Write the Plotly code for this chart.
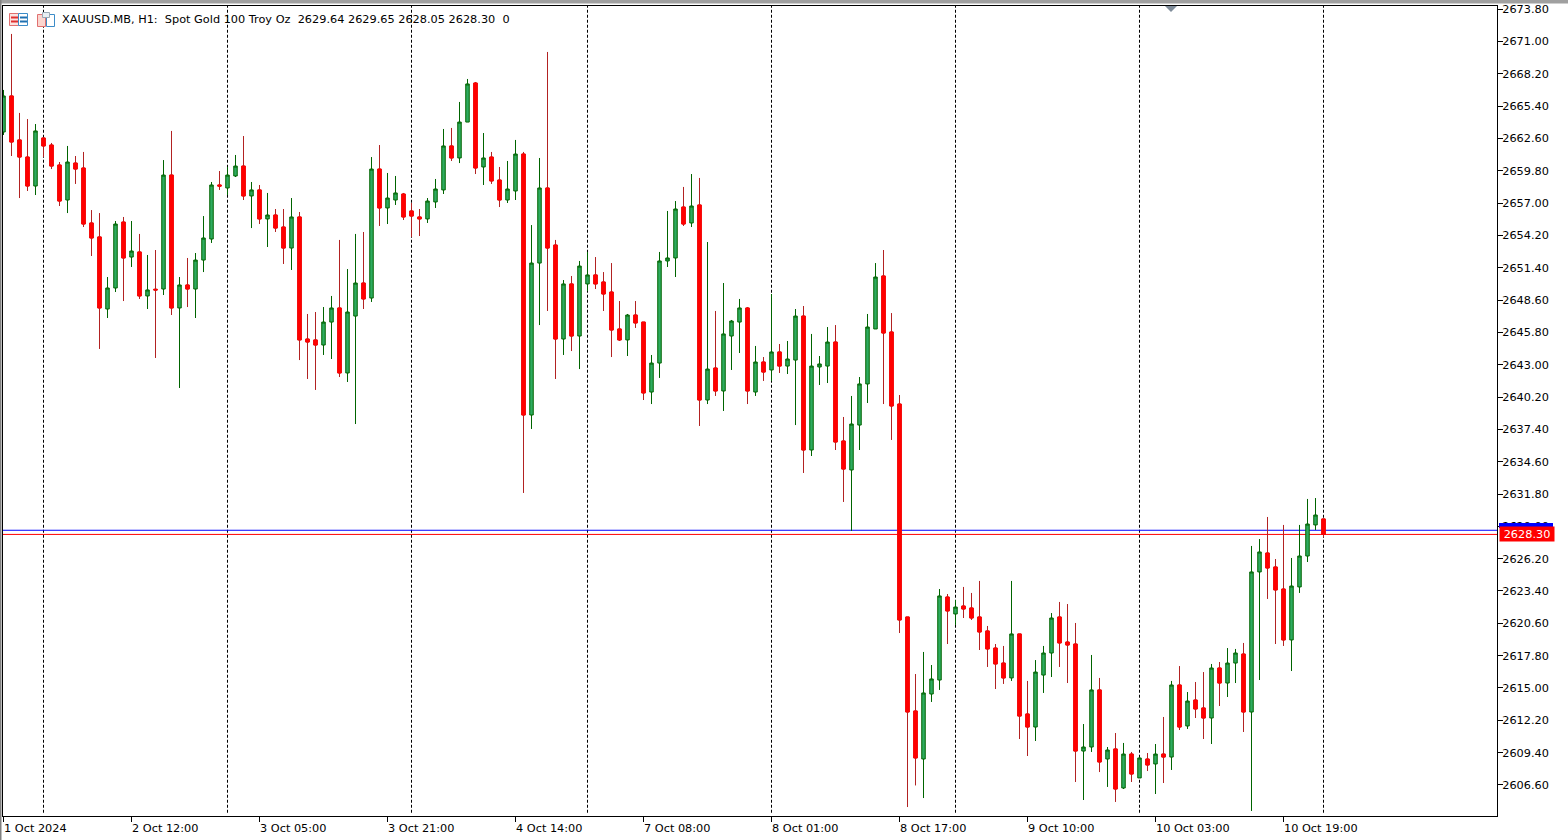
import plotly.graph_objects as go

TITLE = "XAUUSD.MB, H1:\u00a0\u00a0Spot Gold 100 Troy Oz\u00a0\u00a02629.64 2629.65 2628.05 2628.30\u00a0\u00a00"

direction = ("GRRRGRRRGRRRRGGRGRGRGRGRGGGRGGRGRGRRGRRRGGRGGRGRGGRRRGGGRGGRGRRGGRGGRRGRGGRRRRGRRGGGGRGRGRGGGRGRGRGGRGGGRRGGGGRRRRRGGGRGRRRRRRGRRGGGRRRGGRGRGRGRGRGRGRRGRGGRGGRRRGGGGR")

high = [2666.79,2671.64,2664.80,2664.27,2663.84,2662.63,2662.20,2660.55,2661.94,2661.07,2661.42,2656.39,2656.13,2650.59,2655.44,2655.79,2655.44,2654.32,2652.50,2652.93,
        2660.72,2663.24,2650.59,2652.24,2652.67,2655.87,2658.82,2659.77,2660.12,2661.16,2662.80,2658.82,2658.56,2657.87,2656.48,2656.48,2657.43,2656.22,2647.39,2647.56,
        2647.99,2648.95,2653.80,2651.28,2654.32,2654.49,2660.98,2662.02,2659.60,2659.34,2657.87,2657.00,2656.48,2657.43,2659.08,2663.41,2663.50,2665.75,2667.74,2667.48,
        2663.06,2661.42,2660.12,2660.64,2662.46,2661.42,2655.09,2660.90,2670.08,2653.80,2650.33,2650.68,2651.98,2652.76,2652.32,2651.02,2651.80,2648.51,2647.39,2648.51,
        2646.69,2643.84,2652.76,2656.31,2657.17,2658.39,2659.51,2659.17,2653.62,2647.65,2650.07,2646.87,2648.69,2647.99,2644.62,2643.66,2649.12,2644.79,2645.05,2647.82,
        2648.08,2645.66,2643.75,2646.26,2646.43,2638.47,2640.29,2641.93,2647.39,2651.80,2652.93,2647.47,2640.37,2621.15,2616.21,2618.12,2616.99,2623.57,2623.14,2622.62,
        2623.75,2623.23,2624.27,2620.37,2618.81,2618.64,2624.27,2619.68,2615.61,2617.42,2618.64,2621.49,2622.45,2622.27,2620.63,2611.88,2617.86,2615.87,2609.89,2611.10,
        2610.24,2609.46,2609.02,2609.37,2610.15,2612.49,2615.61,2616.90,2614.65,2615.52,2616.38,2617.08,2617.25,2618.46,2618.38,2618.90,2627.30,2627.90,2629.81,2626.17,
        2629.12,2626.26,2629.12,2631.37,2631.45,2629.65]

body_top = [2666.27,2666.27,2662.46,2660.98,2663.24,2662.63,2662.02,2660.29,2660.55,2660.46,2660.03,2655.27,2654.06,2649.64,2655.18,2655.35,2652.84,2652.76,2649.47,2649.53,
            2659.42,2659.42,2649.90,2649.90,2652.06,2653.97,2658.56,2658.56,2659.42,2660.20,2660.20,2658.13,2658.13,2655.96,2655.96,2654.92,2655.79,2655.79,2645.22,2645.14,
            2646.69,2647.91,2647.91,2647.56,2650.07,2650.07,2659.94,2659.94,2657.43,2657.87,2657.78,2656.31,2655.79,2657.17,2658.21,2661.94,2661.94,2664.01,2667.31,2667.39,
            2660.90,2660.98,2658.99,2658.21,2661.24,2661.24,2651.80,2658.30,2658.30,2653.36,2649.99,2649.99,2651.54,2650.77,2650.77,2650.16,2649.29,2646.09,2647.30,2647.30,
            2646.69,2643.14,2651.98,2652.24,2656.48,2656.65,2656.74,2656.83,2642.62,2642.71,2645.66,2646.78,2647.91,2647.91,2643.23,2643.23,2644.10,2644.10,2643.49,2647.21,
            2647.21,2642.88,2643.06,2644.96,2644.96,2636.39,2637.86,2641.33,2646.26,2650.59,2650.68,2645.83,2639.59,2621.15,2613.01,2614.57,2615.78,2622.97,2622.88,2622.01,
            2622.10,2621.93,2621.15,2619.94,2618.46,2617.16,2619.68,2619.68,2612.75,2616.38,2618.03,2621.06,2621.15,2618.98,2618.81,2609.89,2614.83,2614.83,2609.63,2609.72,
            2609.28,2609.28,2608.94,2608.85,2609.28,2609.28,2615.26,2615.26,2613.87,2613.96,2613.27,2616.73,2616.73,2617.16,2618.03,2617.94,2625.05,2626.78,2626.69,2625.48,
            2623.57,2623.83,2626.43,2629.20,2629.98,2629.64]

body_bot = [2663.15,2662.28,2660.98,2658.47,2658.47,2661.94,2660.20,2657.17,2657.26,2659.94,2655.18,2653.97,2647.91,2647.82,2649.64,2652.24,2652.32,2648.95,2648.95,2649.47,
            2649.55,2647.91,2647.91,2649.55,2649.55,2652.06,2653.88,2658.47,2658.30,2659.34,2657.61,2657.61,2655.62,2655.62,2654.83,2653.10,2653.10,2645.14,2644.96,2644.70,
            2644.70,2646.69,2642.28,2642.28,2647.21,2648.69,2648.77,2656.57,2656.57,2657.26,2655.79,2655.87,2655.62,2655.62,2657.09,2658.13,2660.90,2660.90,2664.01,2660.03,
            2660.12,2658.91,2657.26,2657.26,2658.04,2638.64,2638.64,2651.80,2653.10,2645.22,2645.22,2645.48,2645.48,2649.99,2649.99,2649.12,2646.00,2645.14,2645.14,2646.61,
            2640.55,2640.63,2643.14,2651.98,2652.24,2655.18,2655.27,2639.94,2639.94,2640.72,2640.72,2645.48,2646.69,2640.72,2640.63,2642.36,2642.54,2642.88,2642.88,2643.40,
            2635.61,2635.61,2642.80,2642.88,2636.30,2633.96,2633.88,2637.77,2641.33,2646.09,2645.74,2639.42,2620.89,2612.92,2608.94,2608.85,2614.48,2615.69,2621.67,2621.41,
            2621.84,2621.06,2619.85,2618.38,2617.08,2615.87,2615.87,2612.57,2611.62,2611.62,2616.12,2618.03,2618.90,2618.72,2609.54,2609.54,2609.89,2608.59,2608.85,2606.25,
            2606.34,2607.55,2607.21,2608.33,2608.42,2609.02,2609.02,2611.62,2611.71,2613.18,2612.40,2612.40,2615.43,2615.43,2617.16,2612.92,2612.92,2625.05,2625.39,2623.49,
            2619.16,2619.16,2623.75,2626.43,2629.12,2628.30]

low = [2662.89,2661.07,2657.43,2658.04,2657.69,2660.98,2659.94,2656.74,2656.13,2658.65,2654.92,2652.41,2644.36,2647.04,2649.29,2648.51,2651.46,2648.69,2647.82,2643.58,
       2649.03,2647.30,2640.98,2647.99,2647.04,2651.02,2653.54,2658.13,2657.69,2659.25,2657.26,2654.83,2655.18,2653.19,2654.49,2651.72,2651.20,2643.40,2641.76,2640.81,
       2643.84,2643.49,2641.93,2641.50,2637.86,2647.82,2648.43,2655.01,2655.18,2656.83,2655.53,2654.06,2654.14,2655.27,2656.57,2657.78,2660.64,2660.46,2664.01,2659.51,
       2658.56,2658.65,2656.65,2657.00,2657.26,2631.89,2637.43,2646.43,2647.65,2641.76,2643.84,2644.18,2642.62,2649.38,2649.55,2647.65,2643.66,2645.05,2643.75,2646.18,
       2639.94,2639.59,2641.85,2651.46,2650.59,2655.01,2654.92,2637.69,2639.59,2640.29,2638.99,2642.54,2644.01,2639.59,2640.29,2641.59,2641.59,2642.28,2642.19,2637.77,
       2633.62,2635.09,2641.24,2641.41,2635.61,2631.11,2628.60,2635.61,2639.68,2646.09,2639.59,2636.48,2619.76,2604.69,2606.56,2605.47,2613.79,2614.83,2618.81,2620.46,
       2621.06,2620.89,2618.29,2616.82,2614.91,2615.35,2615.61,2610.58,2609.11,2610.41,2614.57,2615.95,2616.82,2615.43,2606.86,2605.30,2609.46,2607.72,2606.43,2605.13,
       2606.25,2606.86,2607.21,2607.81,2605.82,2606.77,2607.90,2611.36,2611.45,2612.40,2610.58,2610.15,2613.44,2614.22,2615.43,2611.19,2604.35,2615.69,2622.71,2618.81,
       2618.64,2616.47,2623.23,2625.91,2628.68,2628.05]

assert len(direction) == len(high) == len(body_top) == len(body_bot) == len(low) == 166

price_ticks = [2673.80,2671.00,2668.20,2665.40,2662.60,2659.80,2657.00,2654.20,2651.40,2648.60,2645.80,2643.00,2640.20,2637.40,2634.60,2631.80,2629.00,2626.20,2623.40,2620.60,2617.80,2615.00,2612.20,2609.40,2606.60]
time_labels = ["1 Oct 2024","2 Oct 12:00","3 Oct 05:00","3 Oct 21:00","4 Oct 14:00","7 Oct 08:00","8 Oct 01:00","8 Oct 17:00","9 Oct 10:00","10 Oct 03:00","10 Oct 19:00"]
time_bars = [0,16,32,48,64,80,96,112,128,144,160]
period_bars = [5,28,51,73,96,119,142,165]
bid = 2628.30
ask = 2628.66

FONT = "DejaVu Sans"
bars = list(range(len(high)))
opens = [b if d == "G" else t for d, t, b in zip(direction, body_top, body_bot)]
closes = [t if d == "G" else b for d, t, b in zip(direction, body_top, body_bot)]

fig = go.Figure()
fig.add_trace(go.Candlestick(
    x=bars, open=opens, high=high, low=low, close=closes,
    increasing=dict(line=dict(color="#006400", width=1), fillcolor="#2EAB60"),
    decreasing=dict(line=dict(color="#B22222", width=1), fillcolor="#FF0000"),
    showlegend=False, hoverinfo="skip"))
red = [i for i, d in enumerate(direction) if d == "R"]
fig.add_trace(go.Candlestick(
    x=red, open=[opens[i] for i in red], close=[closes[i] for i in red],
    high=[opens[i] for i in red], low=[closes[i] for i in red],
    decreasing=dict(line=dict(color="#FF0000", width=1), fillcolor="#FF0000"),
    increasing=dict(line=dict(color="#FF0000", width=1), fillcolor="#FF0000"),
    showlegend=False, hoverinfo="skip"))

shapes = []
for b in period_bars:
    shapes.append(dict(type="line", xref="x", yref="paper", x0=b, x1=b, y0=0.004, y1=1,
                       line=dict(color="black", width=1, dash="3px,2px"), layer="below"))
for v, c in ((ask, "#0000FF"), (bid, "#FF0000")):
    shapes.append(dict(type="line", xref="paper", yref="y", x0=0, x1=1, y0=v, y1=v,
                       line=dict(color=c, width=1), layer="below"))

W, H = 1568, 840
L, R, T, B = 3, 1497, 6, 816
def px(x): return (x - L) / (R - L)
def py(y): return (B - y) / (B - T)
def box(x0, y0, x1, y1, line, fill, lw=1):
    return dict(type="rect", xref="paper", yref="paper", x0=px(x0), x1=px(x1), y0=py(y0), y1=py(y1),
                line=dict(color=line, width=lw), fillcolor=fill, layer="above")
# window edge
shapes.append(box(0, 0, 1568, 3.5, "rgba(0,0,0,0)", "#A0A0A0", 0))
shapes.append(box(0, 0, 1.5, 840, "rgba(0,0,0,0)", "#808080", 0))
# toolbar icons
shapes += [box(9.5, 13.5, 18.5, 25.5, "#E07070", "#FBE3E0"),
           box(18.5, 13.5, 27.5, 25.5, "#3C8CC8", "#FFFFFF")]
for y in (17.5, 21.5):
    shapes.append(dict(type="line", xref="paper", yref="paper", x0=px(11), x1=px(18), y0=py(y), y1=py(y),
                       line=dict(color="#E03030", width=2)))
    shapes.append(dict(type="line", xref="paper", yref="paper", x0=px(20), x1=px(27), y0=py(y), y1=py(y),
                       line=dict(color="#2070B0", width=2)))
shapes += [box(37.5, 14.5, 45.5, 26.5, "#E07070", "#FBD5CF"),
           box(46.5, 14.5, 54.5, 26.5, "#3C8CC8", "#FFFFFF"),
           box(42.5, 12.5, 49.5, 17.5, "#9AA8B4", "#E8EEF2")]
# scroll marker
shapes.append(dict(type="path", xref="paper", yref="paper",
                   path=f"M {px(1165)} {py(6)} L {px(1177)} {py(6)} L {px(1171)} {py(12)} Z",
                   line=dict(width=0), fillcolor="#7F8C9A", layer="above"))
# ask price tag, mostly hidden by the bid tag
shapes.append(box(1499, 523, 1553, 528, "rgba(0,0,0,0)", "#0000FF", 0))

ann = [dict(text=TITLE, xref="paper", yref="paper", x=px(62), y=py(20), xanchor="left", yanchor="middle",
            xshift=-2, showarrow=False, font=dict(family=FONT, size=11.3, color="black"))]
for b, t in zip(time_bars, time_labels):
    ann.append(dict(text=t, xref="x", yref="paper", x=b, y=py(828), xanchor="left", yanchor="middle",
                    xshift=-2, showarrow=False, font=dict(family=FONT, size=11.3, color="black")))
ann.append(dict(text=f"{bid:.2f}", xref="paper", yref="y", x=px(1499), y=bid, xanchor="left", yanchor="middle",
                width=54, height=14, borderpad=0, align="center", bgcolor="#FF0000", showarrow=False,
                font=dict(family=FONT, size=11.3, color="white")))

p_top = 2674.58 - 0.0866 * T
p_bot = 2674.58 - 0.0866 * B

fig.update_layout(
    width=W, height=H, margin=dict(l=L, r=W - R, t=T, b=H - B, pad=0),
    paper_bgcolor="white", plot_bgcolor="white", showlegend=False,
    boxgap=0.38, boxmode="overlay", shapes=shapes, annotations=ann,
    font=dict(family=FONT, size=11.3, color="black"),
    xaxis=dict(range=[-0.0625, (R - L) / 8 - 0.0625], rangeslider=dict(visible=False), showgrid=False, zeroline=False,
               showline=True, linecolor="black", linewidth=1, mirror=True,
               tickmode="array", tickvals=time_bars, ticktext=[""] * len(time_bars),
               ticks="outside", ticklen=5, tickcolor="black", tickwidth=1),
    yaxis=dict(range=[p_bot, p_top], side="right", showgrid=False, zeroline=False,
               showline=True, linecolor="black", linewidth=1, mirror=True,
               tickmode="array", tickvals=price_ticks, ticktext=[f"{v:.2f}" for v in price_ticks],
               ticks="outside", ticklen=5, tickcolor="black", tickwidth=1, ticklabelstandoff=-3,
               tickfont=dict(family=FONT, size=11.3, color="black")),
)

fig.write_html("out.html", config=dict(displayModeBar=False),
               post_script="document.body.style.margin='0';document.documentElement.style.overflow='hidden';")
